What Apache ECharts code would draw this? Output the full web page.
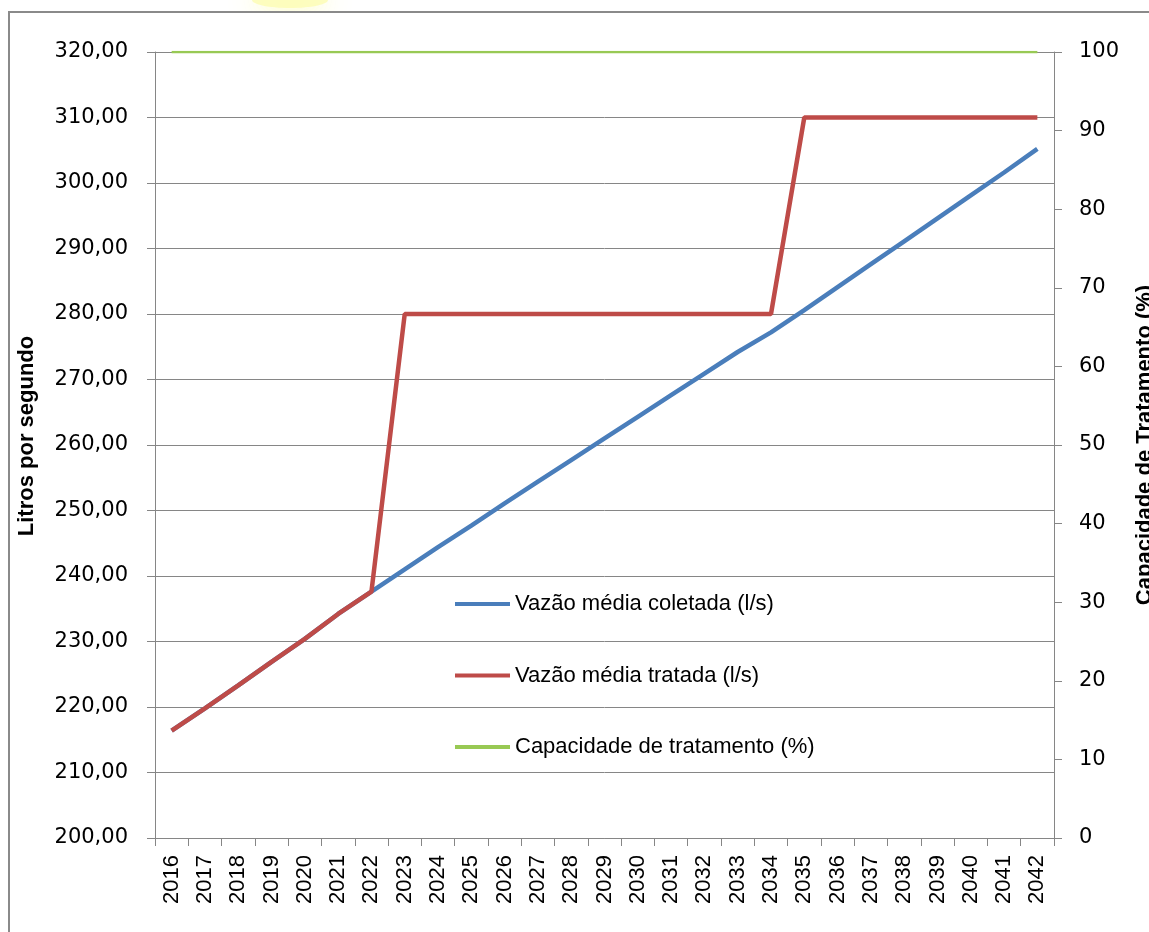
<!DOCTYPE html>
<html>
<head>
<meta charset="utf-8">
<script src="https://cdn.jsdelivr.net/npm/echarts@6/dist/echarts.min.js"></script>
<style>
html,body{margin:0;padding:0;background:#fff;}
#chart{width:1149px;height:932px;}
</style>
</head>
<body>
<div id="chart"></div>
<script>
const years = ['2016','2017','2018','2019','2020','2021','2022','2023','2024','2025','2026','2027','2028','2029','2030','2031','2032','2033','2034','2035','2036','2037','2038','2039','2040','2041','2042'];
const vazaoColetada = [216.4,219.8,223.3,226.9,230.4,234.2,237.6,241.0,244.4,247.7,251.1,254.4,257.7,261.0,264.3,267.6,270.9,274.2,277.2,280.6,284.1,287.6,291.1,294.6,298.1,301.6,305.2];
const vazaoTratada = [216.4,219.8,223.3,226.9,230.4,234.2,237.6,280,280,280,280,280,280,280,280,280,280,280,280,310,310,310,310,310,310,310,310];
const capacidade = [100,100,100,100,100,100,100,100,100,100,100,100,100,100,100,100,100,100,100,100,100,100,100,100,100,100,100];
const seriesNames = ['Vazão média coletada (l/s)','Vazão média tratada (l/s)','Capacidade de tratamento (%)'];

const chart = echarts.init(document.getElementById('chart'));
const axisGray = '#868686';
chart.setOption({
  animation: false,
  backgroundColor: '#fff',
  graphic: [
    {type:'ellipse', shape:{cx:290, cy:0, rx:38, ry:8}, style:{fill:'rgba(253,253,185,0.9)', shadowBlur:28, shadowColor:'rgba(253,253,170,1)'}, z:-1, silent:true},
    {type:'rect', shape:{x:9, y:12, width:1200, height:1000}, style:{fill:'#fff', stroke:'#8a8a8a', lineWidth:2}, silent:true, z:-0.5}
  ],
  grid: {left:155, right:95, top:52, bottom:94, containLabel:false, outerBoundsMode:'none'},
  legend: {
    orient:'vertical', left:455, top:592, padding:0, itemWidth:55, itemHeight:4, itemGap:47.5, icon:'rect',
    data: seriesNames,
    textStyle:{fontFamily:'Liberation Sans', fontSize:22, color:'#000', lineHeight:24}
  },
  xAxis: {
    type:'category', data: years, boundaryGap:true,
    axisLine:{lineStyle:{color:axisGray, width:1}},
    axisTick:{show:true, length:8, lineStyle:{color:axisGray}},
    axisLabel:{rotate:90, interval:0, margin:17, fontFamily:'Liberation Sans', fontSize:22, color:'#000'}
  },
  yAxis: [
    {
      type:'value', min:200, max:320, interval:10, position:'left',
      name:'Litros por segundo', nameLocation:'middle', nameRotate:90, nameGap:117,
      nameTextStyle:{fontFamily:'Liberation Sans', fontWeight:'bold', fontSize:22, color:'#000', padding:[0,0,0,18]},
      axisLine:{show:true, lineStyle:{color:axisGray}},
      axisTick:{show:true, length:8, lineStyle:{color:axisGray}},
      splitLine:{show:true, lineStyle:{color:axisGray, width:1}},
      axisLabel:{margin:27, fontFamily:'DejaVu Sans', fontSize:21, color:'#000', formatter: v => v.toFixed(2).replace('.', ',')}
    },
    {
      type:'value', min:0, max:100, interval:10, position:'right',
      name:'Capacidade de Tratamento (%)', nameLocation:'middle', nameRotate:90, nameGap:80,
      nameTextStyle:{fontFamily:'Liberation Sans', fontWeight:'bold', fontSize:22, color:'#000'},
      axisLine:{show:true, lineStyle:{color:axisGray}},
      axisTick:{show:true, length:8, lineStyle:{color:axisGray}},
      splitLine:{show:false},
      axisLabel:{margin:25, fontFamily:'DejaVu Sans', fontSize:21, color:'#000'}
    }
  ],
  series: [
    {name:seriesNames[0], type:'line', yAxisIndex:0, data:vazaoColetada, symbol:'none', color:'#4A7EBB', lineStyle:{width:4.5, color:'#4A7EBB'}, z:2},
    {name:seriesNames[1], type:'line', yAxisIndex:0, data:vazaoTratada, symbol:'none', color:'#BE4B48', lineStyle:{width:4.5, color:'#BE4B48'}, z:3},
    {name:seriesNames[2], type:'line', yAxisIndex:1, data:capacidade, symbol:'none', color:'#98C954', lineStyle:{width:2.5, color:'#98C954'}, z:4}
  ]
});
</script>
</body>
</html>
